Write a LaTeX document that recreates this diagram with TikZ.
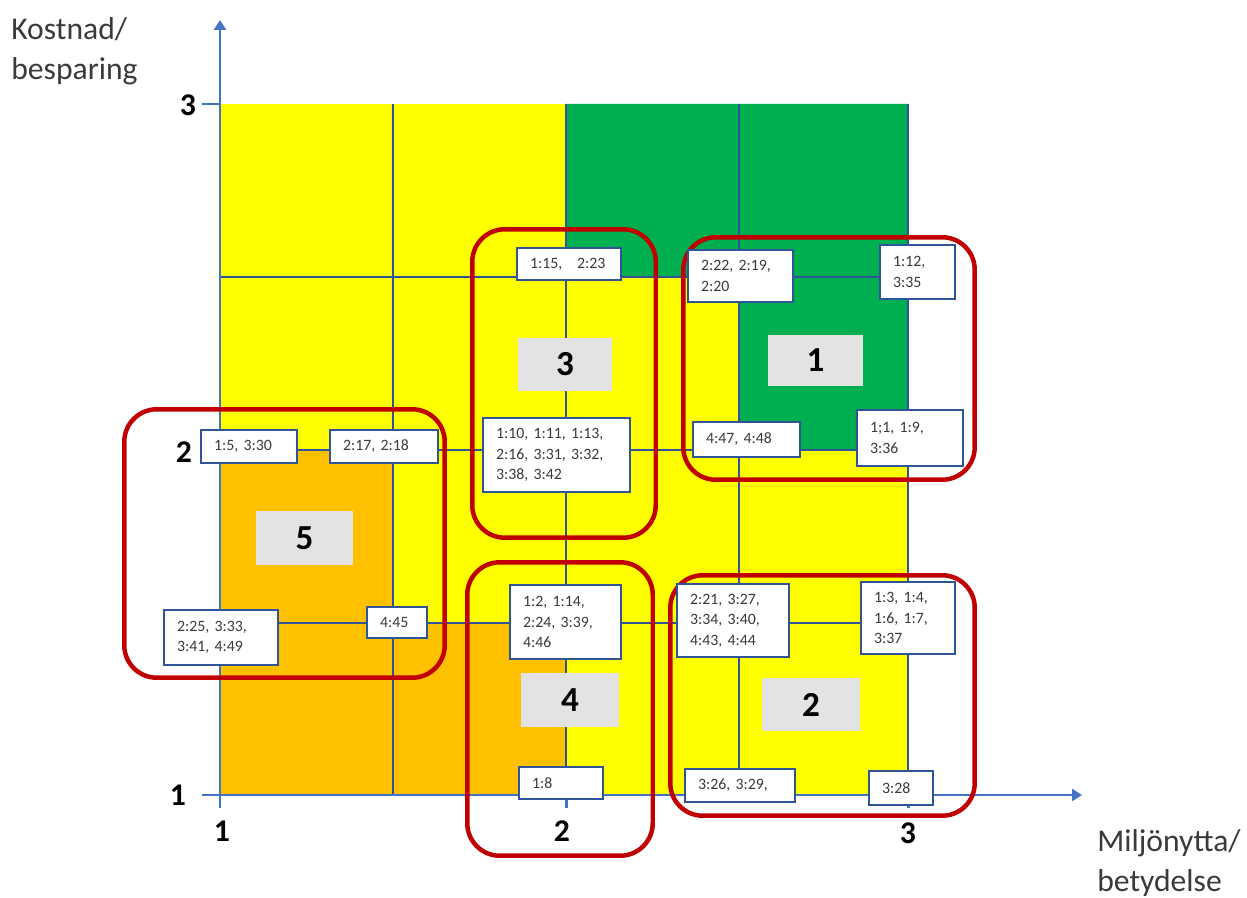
\documentclass[tikz,border=0pt]{standalone}
\usepackage{fontspec}
\setmainfont{Carlito}
\usetikzlibrary{arrows.meta}
\definecolor{axblue}{HTML}{4472C4}
\definecolor{gridblue}{HTML}{2F5597}
\definecolor{frred}{HTML}{C00000}
\definecolor{cyel}{HTML}{FFFF00}
\definecolor{cgreen}{HTML}{00B050}
\definecolor{corange}{HTML}{FFC000}
\definecolor{cgray}{HTML}{E3E3E3}
\definecolor{txt}{HTML}{3A3A3A}
\begin{document}
\begin{tikzpicture}[x=0.02cm,y=-0.02cm,
  tag/.style={draw=gridblue, line width=1.4pt, fill=white, inner xsep=0.26cm, inner ysep=0pt,
    align=left, font=\fontsize{9}{11.6}\selectfont, text=txt},
  grp/.style={draw=frred, line width=2.55pt, rounded corners=0.65cm, inner sep=0pt},
  gbox/.style={fill=cgray, inner sep=0pt, font=\fontsize{20}{24}\selectfont\bfseries},
  axnum/.style={inner sep=0pt, font=\fontsize{18}{22}\selectfont\bfseries},
  axtitle/.style={inner sep=0pt, align=left, font=\fontsize{18}{23}\selectfont, text=txt},
  gridline/.style={draw=gridblue, line width=0.85pt},
  axis/.style={draw=axblue, line width=1.7pt},
  axarrow/.style={axis, -{Triangle[length=0.2cm, width=0.24cm]}}]
\useasboundingbox (0,0) rectangle (1247,898);
% fills
\fill[cyel] (220,104) rectangle (908,795);
\fill[corange] (220,450) -- (393,450) -- (393,623) -- (566,623) -- (566,795) -- (220,795) -- cycle;
\fill[cgreen] (566,104) -- (908,104) -- (908,450) -- (739,450) -- (739,277) -- (566,277) -- cycle;
% grid
\foreach \gx in {393,566,739,908} \draw[gridline] (\gx,104) -- (\gx,795);
\foreach \gy in {277,450,623} \draw[gridline] (220,\gy) -- (908,\gy);
% axes
\coordinate (yfoot) at (220,808);
\coordinate (ytip) at (220,20);
\coordinate (xfoot) at (202,795);
\coordinate (xtip) at (1082,795);
\draw[axarrow] (yfoot) -- (ytip);
\draw[axarrow] (xfoot) -- (xtip);
\foreach \ty in {104,450} \draw[axis] (202,\ty) -- (220,\ty);
\foreach \tx in {566,908} \draw[axis] (\tx,795) -- (\tx,808);
% axis numbers
\node[axnum] (ny3) at (188,105) {3};
\node[axnum] (ny2) at (184,452) {2};
\node[axnum] (ny1) at (178,795) {1};
\node[axnum] (nx1) at (222,831) {1};
\node[axnum] (nx2) at (562,831) {2};
\node[axnum] (nx3) at (908,833) {3};
% axis titles
\node[axtitle, anchor=north west] (ytitle) at (11,17) {Kostnad/\\besparing};
\node[axtitle, anchor=north west] (xtitle) at (1097,829) {Miljönytta/\\betydelse};
% group frames
\node[grp, minimum width=6.41cm, minimum height=5.37cm] (r5) at (284.5,543.5) {};
\node[grp, minimum width=3.67cm, minimum height=6.17cm] (r3) at (564,383.5) {};
\node[grp, minimum width=5.83cm, minimum height=4.85cm] (r1) at (829,358.5) {};
\node[grp, minimum width=3.71cm, minimum height=5.87cm] (r4) at (560,709) {};
\node[grp, minimum width=6.09cm, minimum height=4.81cm] (r2) at (822.5,695.5) {};
% group numbers
\node[gbox, minimum width=1.94cm, minimum height=1.08cm] (g5) at (304.5,538) {5};
\node[gbox, minimum width=1.88cm, minimum height=1.06cm] (g3) at (565,364.5) {3};
\node[gbox, minimum width=1.90cm, minimum height=1.02cm] (g1) at (815.5,360.5) {1};
\node[gbox, minimum width=1.96cm, minimum height=1.08cm] (g4) at (570,700) {4};
\node[gbox, minimum width=1.96cm, minimum height=1.06cm] (g2) at (811,704.5) {2};
% tags
\node[tag, text width=1.40cm, minimum height=0.66cm] (b1) at (249,446.5) {1:5, 3:30};
\node[tag, text width=1.64cm, minimum height=0.66cm] (b2) at (384,446.5) {2:17, 2:18};
\node[tag, text width=1.76cm, minimum height=1.10cm] (b3) at (221,637.5) {2:25, 3:33,\\3:41, 4:49};
\node[tag, text width=0.68cm, minimum height=0.62cm] (b4) at (397,622.5) {4:45};
\node[tag, text width=1.56cm, minimum height=0.64cm] (b5) at (569,264) {1:15,\hspace{0.6em} 2:23};
\node[tag, text width=2.42cm, minimum height=1.48cm] (b6) at (556.5,455) {1:10, 1:11, 1:13,\\2:16, 3:31, 3:32,\\3:38, 3:42};
\node[tag, text width=1.58cm, minimum height=1.04cm] (b7) at (740.5,276) {2:22, 2:19,\\2:20};
\node[tag, text width=0.98cm, minimum height=1.08cm] (b8) at (917.5,272) {1:12,\\3:35};
\node[tag, text width=1.62cm, minimum height=0.70cm] (b9) at (746.5,439.5) {4:47, 4:48};
\node[tag, text width=1.60cm, minimum height=1.12cm] (b10) at (910,438) {1;1, 1:9,\\3:36};
\node[tag, text width=1.70cm, minimum height=1.48cm] (b11) at (565.5,622) {1:2, 1:14,\\2:24, 3:39,\\4:46};
\node[tag, text width=1.16cm, minimum height=0.64cm] (b12) at (561,783) {1:8};
\node[tag, text width=1.72cm, minimum height=1.46cm] (b13) at (733,620.5) {2:21, 3:27,\\3:34, 3:40,\\4:43, 4:44};
\node[tag, text width=1.36cm, minimum height=1.44cm] (b14) at (908,618) {1:3, 1:4,\\1:6, 1:7,\\3:37};
\node[tag, text width=1.68cm, minimum height=0.66cm] (b15) at (740,785.5) {3:26, 3:29,};
\node[tag, text width=0.76cm, minimum height=0.68cm] (b16) at (901,788) {3:28};
\end{tikzpicture}
\end{document}
